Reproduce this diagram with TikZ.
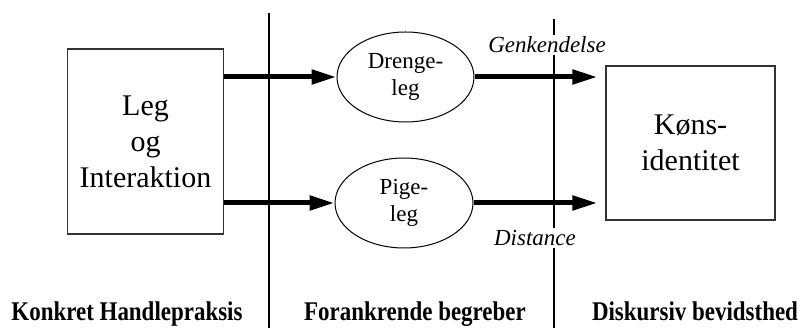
\documentclass[tikz,border=0pt]{standalone}
\usepackage{fontspec}
\setmainfont{Liberation Serif}
\usetikzlibrary{arrows.meta,shapes.geometric}
\begin{document}
\begin{tikzpicture}[x=1pt,y=-1pt,
  boxnode/.style={draw=black!80,line width=1.2pt,inner sep=0pt,align=center,
    font=\fontsize{30}{36}\selectfont},
  ellnode/.style={draw,ellipse,line width=1pt,inner sep=0pt,align=center,
    font=\fontsize{23}{27}\selectfont},
  divider/.style={line width=2.5pt},
  flow/.style={line width=5pt,-{Triangle[length=25pt,width=14pt]}},
  edgelabel/.style={fill=white,inner sep=2pt,font=\fontsize{23}{27}\selectfont\itshape},
  footlabel/.style={anchor=base,font=\fontsize{27}{30}\selectfont\bfseries}]
\useasboundingbox (0,0) rectangle (808,328);
\node[boxnode,minimum width=156pt,minimum height=185pt] (L) at (145.5,141.5) {Leg\\og\\Interaktion};
\node[boxnode,minimum width=169pt,minimum height=154pt] (R) at (690.5,143) {Køns-\\identitet};
\node[ellnode,minimum width=137pt,minimum height=90pt] (D) at (405.5,77) {Drenge-\\leg};
\node[ellnode,minimum width=138pt,minimum height=90pt] (P) at (404,203) {Pige-\\leg};
\coordinate (v1t) at (269,13);
\coordinate (v1b) at (269,328);
\coordinate (v2t) at (554,19);
\coordinate (v2b) at (554,328);
\draw[divider] (v1t) -- (v1b);
\draw[divider] (v2t) -- (v2b);
\draw[flow] (L.east |- D.west) -- (D.west);
\draw[flow] (L.east |- P.west) -- (P.west);
\draw[flow,shorten >=8pt] (D.east) -- (R.west |- D.east);
\draw[flow,shorten >=8pt] (P.east) -- (R.west |- P.east);
\node[edgelabel] (gk) at (547,45) {Genkendelse};
\node[edgelabel] (ds) at (535,238) {Distance};
\node[footlabel] (f1) at (127,321) {\scalebox{0.85}[1]{Konkret Handlepraksis}};
\node[footlabel] (f2) at (415,321) {\scalebox{0.85}[1]{Forankrende begreber}};
\node[footlabel] (f3) at (695,321) {\scalebox{0.85}[1]{Diskursiv bevidsthed}};
\end{tikzpicture}
\end{document}
